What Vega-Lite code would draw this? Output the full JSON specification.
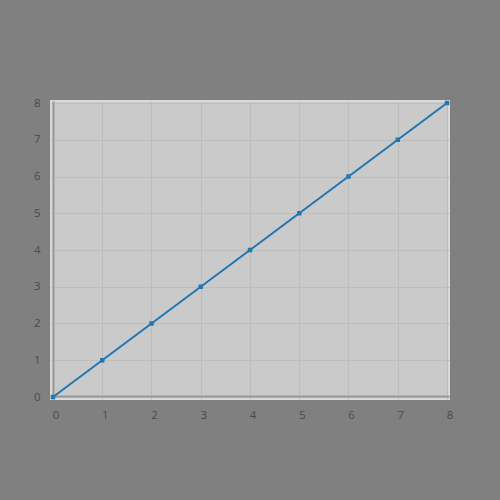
{
  "$schema": "https://vega.github.io/schema/vega-lite/v6.json",
  "width": 398,
  "height": 298,
  "autosize": "none",
  "padding": {"left": 51, "top": 101, "right": 51, "bottom": 101},
  "background": "#808080",
  "view": {"fill": "#cacaca", "stroke": "#d9d9d9", "strokeWidth": 2},
  "config": {
    "font": "Open Sans",
    "axis": {
      "labelColor": "#4a4a4a",
      "labelFontSize": 11.5,
      "gridColor": "#bdbdbd",
      "gridWidth": 1,
      "domainColor": "#999999",
      "domainWidth": 2,
      "ticks": false,
      "title": null
    }
  },
  "data": {
    "values": [
      {"x": 0, "y": 0}, {"x": 1, "y": 1}, {"x": 2, "y": 2}, {"x": 3, "y": 3},
      {"x": 4, "y": 4}, {"x": 5, "y": 5}, {"x": 6, "y": 6}, {"x": 7, "y": 7}, {"x": 8, "y": 8}
    ]
  },
  "mark": {"type": "line", "color": "#1f77b4", "strokeWidth": 2, "point": {"filled": true, "size": 20, "color": "#1f77b4", "shape": "square"}},
  "encoding": {
    "x": {"field": "x", "type": "quantitative", "scale": {"domain": [0, 8], "nice": false, "padding": 2},
      "axis": {"values": [0,1,2,3,4,5,6,7,8], "labelPadding": 13, "offset": -3, "labelOffset": 2.5}},
    "y": {"field": "y", "type": "quantitative", "scale": {"domain": [0, 8], "nice": false, "padding": 2},
      "axis": {"values": [0,1,2,3,4,5,6,7,8], "labelPadding": 13, "offset": -2}}
  }
}
